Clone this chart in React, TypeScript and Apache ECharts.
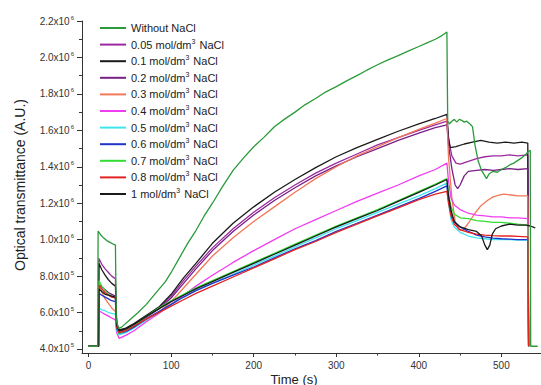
import React, { useEffect, useRef } from "react";
import * as echarts from "echarts";

// Values are in units of 1e5 (A.U.), time in seconds
const seriesNames = [
  "Without NaCl",
  "0.05 mol/dm3 NaCl",
  "0.1 mol/dm3 NaCl",
  "0.2 mol/dm3 NaCl",
  "0.3 mol/dm3 NaCl",
  "0.4 mol/dm3 NaCl",
  "0.5 mol/dm3 NaCl",
  "0.6 mol/dm3 NaCl",
  "0.7 mol/dm3 NaCl",
  "0.8 mol/dm3 NaCl",
  "1 mol/dm3 NaCl",
];

const seriesColors = [
  "#2a9a3a", "#9b2aa0", "#1a1a1a", "#7a1f86", "#f2785a", "#f03cf0",
  "#3ee6f0", "#2233cc", "#33dd33", "#e32222", "#1a1a1a",
];

const withoutNaCl = [
  [0, 4.15], [11, 4.15], [11.5, 10.47], [14, 10.3], [18, 10.1], [22, 9.95], [26, 9.85], [30, 9.75], [32.5, 9.7],
  [33.5, 5.6], [36, 5.13], [40, 5.2], [50, 5.6], [60, 6.0], [70, 6.45], [80, 7.0], [93, 7.7], [100, 8.2],
  [110, 9.0], [120, 9.8], [130, 10.5], [140, 11.3], [150, 12.0], [162, 12.9], [175, 13.8], [188, 14.5],
  [200, 15.1], [212, 15.6], [225, 16.2], [237, 16.6], [250, 17.0], [262, 17.4], [275, 17.75], [287, 18.1],
  [300, 18.4], [312, 18.7], [325, 19.0], [337, 19.3], [350, 19.6], [362, 19.85], [375, 20.1], [387, 20.35],
  [400, 20.6], [410, 20.8], [420, 21.0], [428, 21.2], [434, 21.4], [435, 16.5], [437, 16.35], [440, 16.5],
  [443, 16.6], [446, 16.45], [449, 16.6], [452, 16.55], [455, 16.45], [458, 16.5], [462, 16.35], [465, 16.2],
  [468, 15.2], [472, 14.3], [476, 13.8], [480, 13.5], [482, 13.35], [485, 13.6], [490, 13.75], [495, 13.7],
  [500, 13.85], [505, 13.95], [510, 14.1], [515, 14.2], [520, 14.35], [525, 14.5], [530, 14.7], [533, 14.85],
  [535, 14.9], [535.5, 4.15], [544, 4.15],
];

const nacl005 = [
  [0, 4.15], [12, 4.15], [12.5, 8.97], [16, 8.65], [20, 8.4], [24, 8.2], [28, 8.0], [32.5, 7.85], [34, 5.4],
  [37, 5.0], [45, 5.1], [55, 5.35], [70, 5.8], [85, 6.25], [100, 6.9], [115, 7.75], [130, 8.55], [150, 9.55],
  [175, 10.6], [200, 11.5], [225, 12.3], [250, 13.0], [275, 13.65], [300, 14.2], [325, 14.7], [350, 15.2],
  [375, 15.6], [400, 16.0], [420, 16.3], [434, 16.5], [436, 15.5], [440, 14.6], [445, 14.2], [450, 14.15],
  [460, 14.3], [470, 14.45], [480, 14.55], [490, 14.6], [500, 14.6], [510, 14.65], [520, 14.6], [532, 14.65],
  [533, 4.15],
];

const nacl01 = [
  [0, 4.15], [12, 4.15], [12.5, 8.7], [16, 8.35], [20, 8.05], [24, 7.8], [28, 7.6], [32.5, 7.45], [34, 5.4],
  [37, 5.05], [45, 5.15], [55, 5.4], [70, 5.85], [85, 6.3], [100, 7.0], [115, 7.9], [130, 8.7], [150, 9.8],
  [175, 10.9], [200, 11.8], [225, 12.6], [250, 13.3], [275, 13.95], [300, 14.55], [325, 15.05], [350, 15.5],
  [375, 15.95], [400, 16.35], [420, 16.65], [434, 16.88], [436, 15.6], [438, 15.05], [445, 15.1], [455, 15.25],
  [465, 15.35], [475, 15.45], [485, 15.35], [495, 15.3], [505, 15.35], [515, 15.3], [525, 15.35], [532, 15.3],
  [533, 4.15],
];

const nacl02 = [
  [0, 4.15], [12, 4.15], [12.5, 7.55], [16, 7.4], [20, 7.25], [24, 7.1], [28, 7.0], [32.5, 6.9], [34, 5.3],
  [37, 4.95], [45, 5.05], [55, 5.3], [70, 5.75], [85, 6.2], [100, 6.8], [115, 7.6], [130, 8.4], [150, 9.4],
  [175, 10.45], [200, 11.35], [225, 12.15], [250, 12.85], [275, 13.5], [300, 14.05], [325, 14.55], [350, 15.0],
  [375, 15.45], [400, 15.85], [420, 16.15], [434, 16.3], [436, 15.2], [440, 13.9], [444, 13.0], [447, 12.8],
  [450, 13.0], [455, 13.5], [460, 13.75], [470, 13.8], [480, 13.85], [490, 13.8], [500, 13.85], [510, 13.9],
  [520, 13.85], [532, 13.9], [533, 4.15],
];

const nacl03 = [
  [0, 4.15], [12, 4.15], [12.5, 7.6], [16, 7.1], [20, 6.75], [24, 6.5], [28, 6.25], [32.5, 6.05], [34, 5.2],
  [37, 4.9], [45, 5.0], [55, 5.2], [70, 5.6], [85, 6.0], [100, 6.6], [115, 7.35], [130, 8.1], [150, 9.1],
  [175, 10.1], [200, 11.0], [225, 11.8], [250, 12.6], [275, 13.35], [300, 14.0], [325, 14.6], [350, 15.1],
  [375, 15.6], [400, 16.05], [420, 16.4], [434, 16.65], [436, 14.5], [440, 12.3], [444, 11.0], [448, 10.55],
  [453, 10.5], [460, 10.9], [468, 11.45], [475, 11.85], [483, 12.15], [490, 12.35], [497, 12.45], [503, 12.5],
  [512, 12.45], [520, 12.4], [532, 12.4], [533, 4.15],
];

const nacl04 = [
  [0, 4.15], [12, 4.15], [12.5, 6.1], [16, 6.0], [20, 5.9], [24, 5.8], [28, 5.7], [32.5, 5.6], [34, 4.9],
  [37, 4.58], [45, 4.75], [55, 5.0], [70, 5.5], [85, 5.95], [100, 6.45], [115, 6.95], [130, 7.45], [150, 8.05],
  [175, 8.75], [200, 9.4], [225, 10.0], [250, 10.6], [275, 11.1], [300, 11.6], [325, 12.1], [350, 12.55],
  [375, 13.0], [400, 13.5], [420, 13.85], [434, 14.2], [436, 13.2], [439, 12.3], [443, 11.9], [450, 11.65],
  [460, 11.45], [470, 11.35], [480, 11.3], [490, 11.25], [500, 11.25], [510, 11.2], [520, 11.2], [532, 11.15],
  [533, 4.15],
];

const nacl05 = [
  [0, 4.15], [12, 4.15], [12.5, 6.25], [16, 6.15], [20, 6.1], [24, 6.0], [28, 5.95], [32.5, 5.9], [34, 5.0],
  [37, 4.77], [45, 4.9], [55, 5.15], [70, 5.6], [85, 6.0], [100, 6.45], [115, 6.85], [130, 7.2], [150, 7.6],
  [175, 8.1], [200, 8.6], [225, 9.1], [250, 9.6], [275, 10.1], [300, 10.6], [325, 11.05], [350, 11.5],
  [375, 11.95], [400, 12.4], [420, 12.8], [434, 13.1], [436, 12.0], [439, 11.1], [443, 10.7], [450, 10.4],
  [460, 10.2], [470, 10.1], [480, 10.05], [490, 10.0], [500, 10.0], [510, 10.0], [520, 9.98], [532, 9.98],
  [533, 4.15],
];

const nacl06 = [
  [0, 4.15], [12, 4.15], [12.5, 7.05], [16, 6.95], [20, 6.85], [24, 6.75], [28, 6.65], [32.5, 6.6], [34, 5.1],
  [37, 4.86], [45, 4.95], [55, 5.2], [70, 5.65], [85, 6.05], [100, 6.45], [115, 6.85], [130, 7.2], [150, 7.6],
  [175, 8.05], [200, 8.5], [225, 9.0], [250, 9.5], [275, 9.95], [300, 10.45], [325, 10.9], [350, 11.35],
  [375, 11.8], [400, 12.25], [420, 12.65], [434, 12.95], [436, 12.2], [439, 11.4], [443, 10.95], [450, 10.7],
  [460, 10.45], [470, 10.25], [480, 10.15], [490, 10.08], [500, 10.05], [510, 10.03], [519, 10.0], [532, 10.0],
  [533, 4.15],
];

const nacl07 = [
  [0, 4.15], [12, 4.15], [12.5, 7.75], [16, 7.45], [20, 7.2], [24, 7.0], [28, 6.9], [32.5, 6.8], [34, 5.2],
  [37, 4.85], [45, 5.0], [55, 5.3], [70, 5.8], [85, 6.25], [100, 6.65], [115, 7.0], [130, 7.35], [150, 7.75],
  [175, 8.25], [200, 8.75], [225, 9.25], [250, 9.75], [275, 10.25], [300, 10.75], [325, 11.2], [350, 11.65],
  [375, 12.15], [400, 12.65], [420, 13.05], [434, 13.35], [436, 12.5], [439, 11.8], [443, 11.4], [450, 11.2],
  [460, 11.15], [470, 11.05], [480, 11.0], [490, 10.95], [500, 10.95], [510, 10.9], [520, 10.85], [532, 10.8],
  [533, 4.15],
];

const nacl08 = [
  [0, 4.15], [12, 4.15], [12.5, 7.5], [16, 7.3], [20, 7.1], [24, 6.95], [28, 6.85], [32.5, 6.8], [34, 5.2],
  [37, 4.9], [45, 5.0], [55, 5.25], [70, 5.65], [85, 6.0], [100, 6.35], [115, 6.7], [130, 7.05], [150, 7.45],
  [175, 7.95], [200, 8.45], [225, 8.95], [250, 9.45], [275, 9.9], [300, 10.4], [325, 10.85], [350, 11.3],
  [375, 11.75], [400, 12.2], [420, 12.5], [434, 12.65], [436, 12.0], [439, 11.3], [443, 10.85], [450, 10.55],
  [460, 10.4], [470, 10.3], [480, 10.25], [490, 10.22], [500, 10.2], [510, 10.2], [520, 10.18], [532, 10.15],
  [533, 4.15],
];

const nacl1 = [
  [0, 4.15], [12, 4.15], [12.5, 7.3], [16, 7.15], [20, 7.0], [24, 6.95], [28, 6.9], [32.5, 6.85], [34, 5.3],
  [37, 5.0], [45, 5.1], [55, 5.35], [70, 5.8], [85, 6.2], [100, 6.6], [115, 6.95], [130, 7.3], [150, 7.7],
  [175, 8.2], [200, 8.7], [225, 9.2], [250, 9.7], [275, 10.2], [300, 10.7], [325, 11.15], [350, 11.6],
  [375, 12.1], [400, 12.6], [420, 13.0], [434, 13.3], [436, 12.4], [439, 11.6], [443, 11.0], [450, 10.7],
  [460, 10.55], [470, 10.45], [476, 10.2], [480, 9.7], [483, 9.45], [486, 9.7], [489, 10.3], [493, 10.6],
  [500, 10.75], [510, 10.85], [520, 10.8], [530, 10.8], [535, 10.75], [541, 10.65],
];

const seriesData = [withoutNaCl, nacl005, nacl01, nacl02, nacl03, nacl04, nacl05, nacl06, nacl07, nacl08, nacl1];

const xMajorTicks = [0, 100, 200, 300, 400, 500];
const xMinorTicks = [50, 150, 250, 350, 450];
const yMajorTicks = [4, 6, 8, 10, 12, 14, 16, 18, 20, 22];
const yMinorTicks = [5, 7, 9, 11, 13, 15, 17, 19, 21];

const FONT = "'Liberation Sans', Arial, sans-serif";
const AX = "#333";

export default function App() {
  const ref = useRef<HTMLDivElement>(null);
  useEffect(() => {
    if (!ref.current) return;
    const chart = echarts.init(ref.current, undefined, { renderer: "svg" });
    const xBase = {
      type: "value", min: -8, max: 548, position: "bottom",
      splitLine: { show: false },
    };
    const yBase = {
      type: "value", min: 3.78, max: 22, position: "left",
      splitLine: { show: false },
    };
    chart.setOption({
      animation: false,
      backgroundColor: "#fff",
      grid: { left: 82, right: 0, top: 21, bottom: 32, containLabel: false },
      xAxis: [
        {
          ...xBase,
          axisLine: { show: true, onZero: false, lineStyle: { color: AX, width: 1 } },
          axisTick: { show: true, length: 4, customValues: xMajorTicks, lineStyle: { color: AX } },
          axisLabel: {
            show: true, customValues: xMajorTicks, margin: 7, fontSize: 10, color: AX, fontFamily: FONT,
          },
        },
        {
          ...xBase,
          axisLine: { show: false, onZero: false },
          axisTick: { show: true, length: 2.5, customValues: xMinorTicks, lineStyle: { color: AX } },
          axisLabel: { show: false },
        },
      ],
      yAxis: [
        {
          ...yBase,
          axisLine: { show: true, onZero: false, lineStyle: { color: AX, width: 1 } },
          axisTick: { show: true, length: 5, customValues: yMajorTicks, lineStyle: { color: AX } },
          axisLabel: {
            show: true, customValues: yMajorTicks, margin: 8, fontSize: 10, color: AX, fontFamily: FONT,
            formatter: (v: number) =>
              v >= 10 ? `${(v / 10).toFixed(1)}x10{sup|6}` : `${v.toFixed(1)}x10{sup|5}`,
            rich: { sup: { fontSize: 6, color: AX, fontFamily: FONT, padding: [0, 0, 7, 1] } },
          },
        },
        {
          ...yBase,
          axisLine: { show: false, onZero: false },
          axisTick: { show: true, length: 3, customValues: yMinorTicks, lineStyle: { color: AX } },
          axisLabel: { show: false },
        },
      ],
      legend: {
        orient: "vertical", left: 95, top: 16, itemWidth: 26, itemHeight: 2, itemGap: 2.6,
        icon: "rect",
        data: seriesNames,
        formatter: (name: string) => name.replace("dm3", "dm{sup|3}"),
        textStyle: {
          fontSize: 11, color: "#222", fontFamily: FONT, lineHeight: 14,
          rich: { sup: { fontSize: 7, color: "#222", fontFamily: FONT, padding: [0, 1, 7, 0] } },
        },
      },
      graphic: [
        {
          type: "text", x: 294, y: 379,
          style: { text: "Time (s)", fontSize: 13, fill: "#222", fontFamily: FONT, align: "center", verticalAlign: "middle" },
        },
        {
          type: "text", x: 20, y: 185, rotation: Math.PI / 2,
          style: { text: "Optical transmittance (A.U.)", fontSize: 14, fill: "#222", fontFamily: FONT, align: "center", verticalAlign: "middle" },
        },
      ],
      series: seriesNames.map((name, i) => ({
        name,
        type: "line",
        data: seriesData[i],
        showSymbol: false,
        symbol: "none",
        z: i === 0 ? 4 : 2,
        color: seriesColors[i],
        itemStyle: { color: seriesColors[i] },
        lineStyle: { width: 1.3, color: seriesColors[i] },
      })),
    });
    return () => chart.dispose();
  }, []);
  return (
    <div
      ref={ref}
      style={{ position: "fixed", left: 0, top: 0, width: 541, height: 385, background: "#fff" }}
    />
  );
}
